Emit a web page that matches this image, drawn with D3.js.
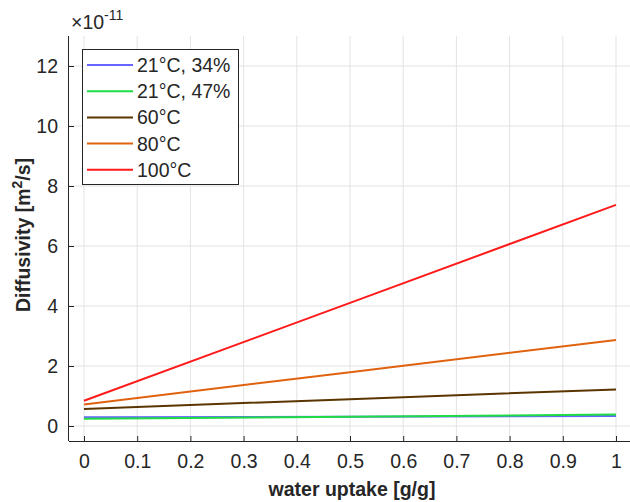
<!DOCTYPE html>
<html><head><meta charset="utf-8">
<script src="https://cdn.jsdelivr.net/npm/d3@7"></script>
<style>body{margin:0;background:#fff}svg{display:block}text{font-family:"Liberation Sans",Arial,Helvetica,sans-serif}</style>
</head><body><svg id="c" width="630" height="502"></svg>
<script>
const xValues = [0, 0.5, 1];
const seriesNames = ["21°C, 34%", "21°C, 47%", "60°C", "80°C", "100°C"];
const seriesColors = ["#6666ff", "#1fdc45", "#5a3500", "#e0620f", "#ff1a1a"];
const s21_34 = [0.29, 0.31, 0.33];
const s21_47 = [0.24, 0.31, 0.38];
const s60 = [0.57, 0.895, 1.22];
const s80 = [0.72, 1.795, 2.87];
const s100 = [0.84, 4.105, 7.37];
const seriesValues = [s21_34, s21_47, s60, s80, s100];
const xTicks = [0, 0.1, 0.2, 0.3, 0.4, 0.5, 0.6, 0.7, 0.8, 0.9, 1];
const yTicks = [0, 2, 4, 6, 8, 10, 12];

const svg = d3.select("#c");
const L = 69, R = 631, T = 36, B = 441;
const x = d3.scaleLinear().domain([-0.0282, 1.0282]).range([L, R]);
const y = d3.scaleLinear().domain([-0.5, 13]).range([B, T]);
const axisColor = "#262626";
const FS = 19.5;

// grid
const g = svg.append("g");
g.selectAll(".gx").data(xTicks).join("line")
  .attr("x1", d => x(d)).attr("x2", d => x(d)).attr("y1", T).attr("y2", B)
  .attr("stroke", "#e3e3e3").attr("stroke-width", 1);
g.selectAll(".gy").data(yTicks).join("line")
  .attr("x1", L).attr("x2", R).attr("y1", d => y(d)).attr("y2", d => y(d))
  .attr("stroke", "#e3e3e3").attr("stroke-width", 1);

// lines
const line = d3.line().x((d, i) => x(xValues[i])).y(d => y(d));
seriesValues.forEach((vals, k) => {
  svg.append("path").datum(vals).attr("d", line).attr("fill", "none")
    .attr("stroke", seriesColors[k]).attr("stroke-width", 2);
});

// axes
const xAxis = d3.axisBottom(x).tickValues(xTicks).tickSize(-5).tickPadding(13)
  .tickFormat(d => d3.format("")(d));
const xa = svg.append("g").attr("transform", `translate(0,${B})`).call(xAxis);
xa.attr("font-size", FS).attr("font-family", null);
xa.select(".domain").attr("d", `M${L},0.5H${R}`).attr("stroke", axisColor);
xa.selectAll(".tick line").attr("stroke", axisColor);
xa.selectAll(".tick text").attr("fill", axisColor).style("font-size", FS + "px");

const yAxis = d3.axisLeft(y).tickValues(yTicks).tickSize(-5).tickPadding(11);
const ya = svg.append("g").attr("transform", `translate(${L},0)`).call(yAxis);
ya.attr("font-size", FS).attr("font-family", null);
ya.select(".domain").attr("d", `M-0.5,${T}V${B}`).attr("stroke", axisColor);
ya.selectAll(".tick line").attr("stroke", axisColor);
ya.selectAll(".tick text").attr("fill", axisColor).style("font-size", FS + "px");

// exponent
const ex = svg.append("text").attr("x", 71).attr("y", 29).attr("fill", axisColor).style("font-size", FS + "px");
ex.append("tspan").text("×10");
ex.append("tspan").attr("dy", -9).style("font-size", "14px").text("-11");

// axis labels
svg.append("text").attr("x", 352).attr("y", 496).attr("text-anchor", "middle")
  .attr("font-weight", "bold").style("font-size", FS + "px").attr("fill", axisColor).text("water uptake [g/g]");
const yl = svg.append("text").attr("transform", "translate(30,235) rotate(-90)").attr("text-anchor", "middle")
  .attr("font-weight", "bold").style("font-size", FS + "px").attr("fill", axisColor);
yl.append("tspan").text("Diffusivity [m");
yl.append("tspan").attr("dy", -8).style("font-size", "14px").text("2");
yl.append("tspan").attr("dy", 8).text("/s]");

// legend
const lg = svg.append("g");
lg.append("rect").attr("x", 82.5).attr("y", 49.5).attr("width", 156).attr("height", 135)
  .attr("fill", "#fff").attr("stroke", axisColor).attr("stroke-width", 1);
seriesNames.forEach((n, k) => {
  const yy = 65 + k * 26.2;
  lg.append("line").attr("x1", 87).attr("x2", 133).attr("y1", yy).attr("y2", yy)
    .attr("stroke", seriesColors[k]).attr("stroke-width", 2);
  lg.append("text").attr("x", 137).attr("y", yy + 7).style("font-size", FS + "px").attr("fill", axisColor).text(n);
});
</script></body></html>
